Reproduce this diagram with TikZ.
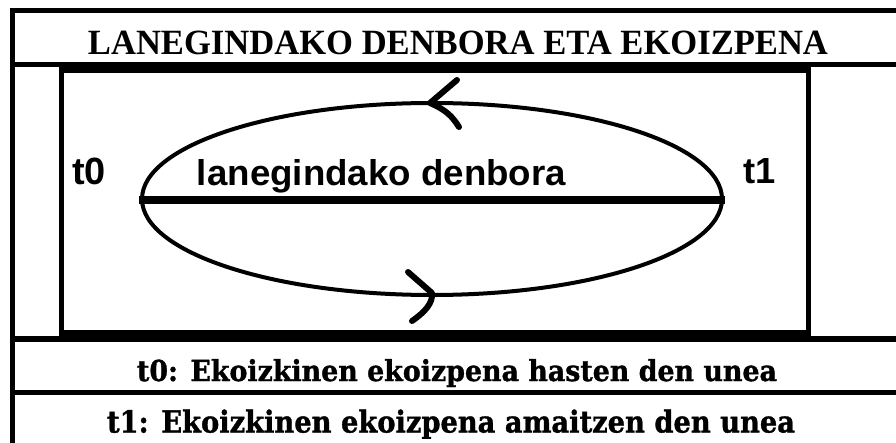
\documentclass[tikz,border=0pt]{standalone}
\usepackage{fontspec}
\usepackage{graphicx}
\setmainfont{Liberation Serif}
\newfontfamily\rowfont[BoldFeatures={FakeBold=1.2}]{DejaVu Serif}
\newfontfamily\sansbold{Liberation Sans}
\tikzset{
  frameline/.style={line width=5pt, line cap=butt},
  txt/.style={inner sep=0pt, anchor=base},
  chev/.style={line width=6pt, line cap=round, line join=round},
}
\begin{document}
\begin{tikzpicture}[x=1pt, y=-1pt]
\useasboundingbox (0,0) rectangle (896,443);
% outer frame (open right and bottom)
\draw[frameline] (12,8) -- (12,443);
\draw[frameline] (10,10.5) -- (896,10.5);
\draw[frameline] (10,64.5) -- (896,64.5);
% inner box
\draw[line width=5pt] (61.5,70) -- (808.5,70) -- (808.5,333) -- (61.5,333) -- cycle;
\draw[line width=7pt] (61.5,69.5) -- (808.5,69.5);
\draw[line width=6pt] (61.5,333) -- (808.5,333);
% row separators
\draw[line width=6pt] (10,339) -- (896,339);
\draw[frameline] (10,392.5) -- (896,392.5);
% ellipse and axis
\draw[line width=4pt] (432,199) ellipse [x radius=290, y radius=96];
\coordinate (a0) at (139,200);
\coordinate (a1) at (725,200);
\draw[line width=8pt] (a0) -- (a1);
% arrowheads
\draw[chev] (457,80) -- (430,103) .. controls (446,110) and (452,116) .. (459,127);
\draw[chev] (408,272) -- (432,293) .. controls (433,303) and (425,312) .. (412,321);
% texts
\node[txt] (title) at (458,55) {\resizebox{740pt}{23.5pt}{\fontsize{38pt}{44pt}\selectfont\bfseries LANEGINDAKO DENBORA ETA EKOIZPENA}};
\node[txt] (t0) at (89,185) {\resizebox{!}{26.5pt}{\fontsize{36pt}{42pt}\sansbold\bfseries t0}};
\node[txt] (t1) at (760,184) {\resizebox{!}{25pt}{\fontsize{36pt}{42pt}\sansbold\bfseries t1}};
\node[txt] (lab) at (381.5,186) {\resizebox{369pt}{26pt}{\fontsize{36pt}{42pt}\sansbold\bfseries lanegindako denbora}};
\node[txt] (r0) at (457,381) {\resizebox{640pt}{22pt}{\fontsize{30pt}{36pt}\rowfont\bfseries t0: Ekoizkinen ekoizpena hasten den unea}};
\node[txt] (r1) at (451,432.5) {\resizebox{688pt}{23pt}{\fontsize{32pt}{38pt}\rowfont\bfseries t1: Ekoizkinen ekoizpena amaitzen den unea}};
\end{tikzpicture}
\end{document}
